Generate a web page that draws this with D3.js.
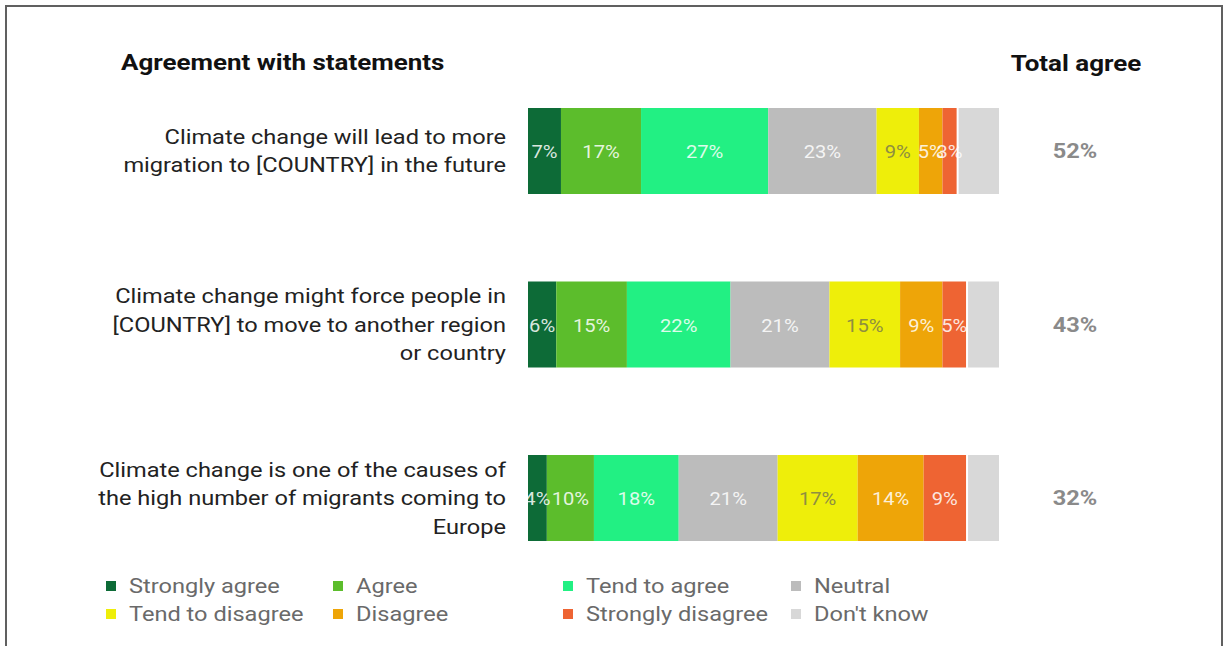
<!DOCTYPE html>
<html><head><meta charset="utf-8">
<script src="https://cdn.jsdelivr.net/npm/d3@7"></script>
<style>html,body{margin:0;padding:0;background:#fff;}svg{display:block;font-family:Roboto,"Open Sans",sans-serif;}</style>
</head><body>
<svg id="c" width="1228" height="646"></svg>
<script>
const categories = [
  ["Climate change will lead to more", "migration to [COUNTRY] in the future"],
  ["Climate change might force people in", "[COUNTRY] to move to another region", "or country"],
  ["Climate change is one of the causes of", "the high number of migrants coming to", "Europe"]
];
const seriesNames = ["Strongly agree","Agree","Tend to agree","Neutral","Tend to disagree","Disagree","Strongly disagree","Don't know"];
const seriesColors = ["#0d6b37","#5cbd2c","#22f083","#bcbcbc","#eeee0a","#eea508","#ee6433","#d8d8d8"];
const stronglyAgree = [7, 6, 4];
const agree = [17, 15, 10];
const tendToAgree = [27, 22, 18];
const neutral = [23, 21, 21];
const tendToDisagree = [9, 15, 17];
const disagree = [5, 9, 14];
const stronglyDisagree = [3, 5, 9];
const dontKnow = [9, 7, 7];
const totalAgree = ["52%", "43%", "32%"];
const series = [stronglyAgree, agree, tendToAgree, neutral, tendToDisagree, disagree, stronglyDisagree, dontKnow];

const svg = d3.select("#c");
const SX = 1.18;
function stext(parent, x, y, str, opts) {
  const g = parent.append("g").attr("transform", `translate(${x},${y}) scale(${opts.sx || SX},1)`);
  const t = g.append("text").attr("x",0).attr("y",0)
    .attr("text-anchor", opts.anchor || "start")
    .attr("font-size", opts.size || 20)
    .attr("font-weight", opts.weight || 400)
    .attr("fill", opts.fill || "#222").text(str);
  return t;
}
// frame
svg.append("path").attr("d","M6,646 V6 H1222 V646").attr("fill","none").attr("stroke","#606060").attr("stroke-width",2);

const x = d3.scaleLinear().domain([0,100]).range([528, 999]);
const y = d3.scalePoint().domain(d3.range(categories.length)).range([151, 498]);
const barH = 86;

stext(svg, 121, 70, "Agreement with statements", {size:22, weight:700, fill:"#111"});
stext(svg, 1076, 71, "Total agree", {size:22, weight:700, fill:"#111", anchor:"middle"});

categories.forEach((lines, i) => {
  const cy = y(i);
  const lh = 28.5;
  lines.forEach((ln, j) => {
    stext(svg, 506, cy + (j - (lines.length-1)/2)*lh + 7, ln, {size:20, fill:"#222", anchor:"end"});
  });
  let acc = 0;
  series.forEach((s, k) => {
    const v = s[i];
    const x0 = x(acc), x1 = x(acc + v);
    const isDK = k === series.length - 1;
    svg.append("rect").attr("x", isDK ? x0 + 2 : x0).attr("y", cy - barH/2)
      .attr("width", isDK ? x1 - x0 - 2 : x1 - x0).attr("height", barH).attr("fill", seriesColors[k]);
    acc += v;
  });
  acc = 0;
  series.forEach((s, k) => {
    const v = s[i];
    const isDK = k === series.length - 1;
    if (!isDK) {
      const cx = (x(acc) + x(acc + v)) / 2;
      stext(svg, cx, cy + 7, v + "%", {size:18, anchor:"middle", sx:1.12,
        fill: k === 4 ? "#8f8f40" : "rgba(255,255,255,0.85)"});
    }
    acc += v;
  });
  stext(svg, 1075, cy + 7, totalAgree[i], {size:20, weight:700, fill:"#8a8a8a", anchor:"middle"});
});

// legend
const legX = [106, 333, 563, 791];
const legY = [586, 614];
seriesNames.forEach((n, k) => {
  const col = k % 4, row = Math.floor(k / 4);
  const g = svg.append("g").attr("transform", `translate(${legX[col]},${legY[row]})`);
  g.append("rect").attr("x",0).attr("y",-5).attr("width",10).attr("height",10).attr("fill", seriesColors[k]);
  stext(g, 23, 7, n, {size:20, fill:"#6a6a6a"});
});
</script>
</body></html>
